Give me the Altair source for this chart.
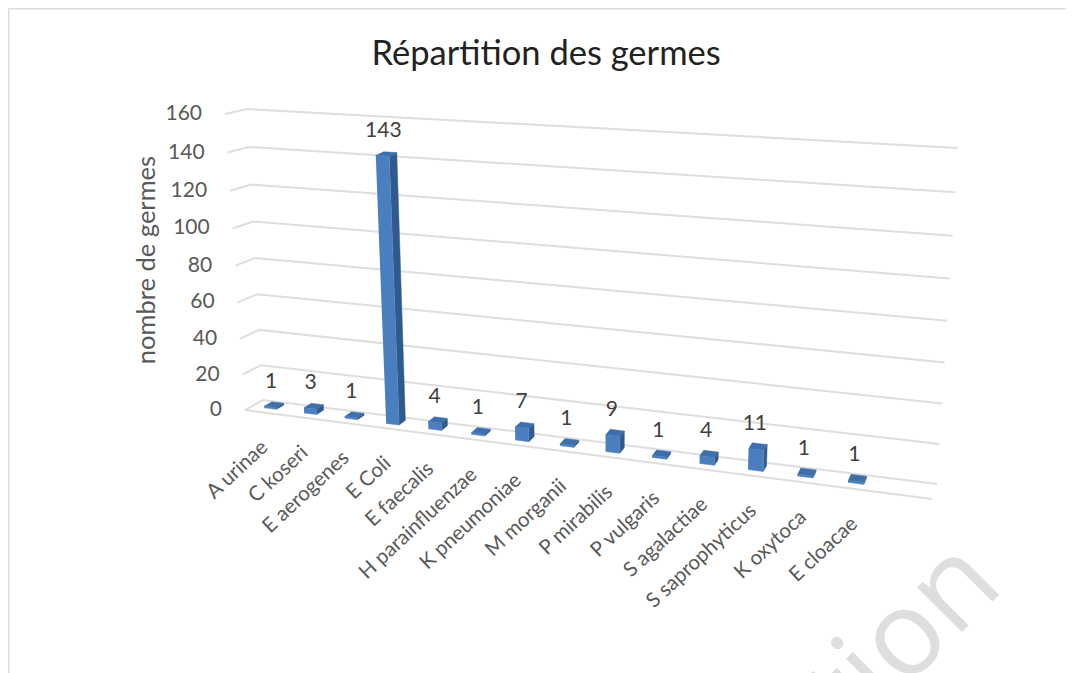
import altair as alt
import numpy as np
import pandas as pd

# ---- chart data
categories = ["A urinae", "C koseri", "E aerogenes", "E Coli", "E faecalis", "H parainfluenzae",
              "K pneumoniae", "M morganii", "P mirabilis", "P vulgaris", "S agalactiae",
              "S saprophyticus", "K oxytoca", "E cloacae"]
values = [1, 3, 1, 143, 4, 1, 7, 1, 9, 1, 4, 11, 1, 1]
y_ticks = [0, 20, 40, 60, 80, 100, 120, 140, 160]
title_text = "Répartition des germes"
y_title = "nombre de germes"
slots = 15  # one empty slot after the last category
v_max = 160

# ---- perspective of the 3-D box (picture pixels)
W, H = 1058, 665
BL, BR, TR, TL = (263, 400), (937, 484), (958, 148), (247, 109)
(x0, y0), (x1, y1), (x2, y2), (x3, y3) = BL, BR, TR, TL
sx = x0 - x1 + x2 - x3
sy = y0 - y1 + y2 - y3
ax1, ax2 = x1 - x2, x3 - x2
ay1, ay2 = y1 - y2, y3 - y2
den = ax1 * ay2 - ax2 * ay1
g = (sx * ay2 - ax2 * sy) / den
h = (ax1 * sy - sx * ay1) / den


def project(t, v, d=0.0):
    """t: along category axis 0..1, v: value, d: depth 0 (back) .. 1 (front)."""
    u = v / v_max
    w = g * t + h * u + 1
    px = ((x1 - x0 + g * x1) * t + (x3 - x0 + h * x3) * u + x0) / w
    py = ((y1 - y0 + g * y1) * t + (y3 - y0 + h * y3) * u + y0) / w
    ox = (1 - t) * (-18 - 4 * u) + t * (-5 - 1 * u)
    oy = (1 - t) * (10 - 5 * u) + t * (15 + 5 * u)
    return px + ox * d, py + oy * d


half = 0.155 / slots
d_back, d_front = 0.2, 0.62

faces = {"front": [], "side": [], "top": []}
labels = []
cat_rows = []
for i, (c, v) in enumerate(zip(categories, values)):
    tc = (i + 0.5) / slots
    tc -= 0.002 * (1 - tc)
    a, b = tc - half, tc + half
    polys = {
        "front": [(a, 0, d_front), (b, 0, d_front), (b, v, d_front), (a, v, d_front)],
        "side": [(b, 0, d_front), (b, 0, d_back), (b, v, d_back), (b, v, d_front)],
        "top": [(a, v, d_front), (b, v, d_front), (b, v, d_back), (a, v, d_back)],
    }
    for name, pts in polys.items():
        for k, p in enumerate(pts):
            px, py = project(*p)
            faces[name].append({"bar": c, "k": k, "x": px, "y": py})
    lx, ly = project(tc, v, (d_front + d_back) / 2)
    labels.append({"x": lx - 3, "y": ly - 23, "text": str(v)})
    fx, fy = project(tc, 0, 1)
    cat_rows.append({"x": fx + 1, "y": fy + 32, "text": c})

grid_rows = []
tick_rows = []
for v in y_ticks:
    for k, p in enumerate([(0, v, 1), (0, v, 0), (1, v, 0)]):
        px, py = project(*p)
        grid_rows.append({"g": f"v{v}", "k": k, "x": px, "y": py})
    px, py = project(0, v, 1)
    tick_rows.append({"x": px - 23, "y": py, "text": str(v)})
for k, p in enumerate([(0, 0, 1), (1, 0, 1)]):
    px, py = project(*p)
    grid_rows.append({"g": "front", "k": k, "x": px, "y": py})

X = alt.X("x:Q", scale=alt.Scale(domain=[8, 8 + W], range=[0, W]), axis=None)
Y = alt.Y("y:Q", scale=alt.Scale(domain=[8 + H, 8], range=[H, 0]), axis=None)

GREY = "#595959"
FONT = "Lato"

grid = alt.Chart(pd.DataFrame(grid_rows)).mark_line(color="#DEDEDE", strokeWidth=2).encode(
    x=X, y=Y, detail="g:N", order="k:Q")


def face(name, colour):
    return alt.Chart(pd.DataFrame(faces[name])).mark_line(
        fill=colour, stroke=colour, strokeWidth=0.5).encode(x=X, y=Y, detail="bar:N", order="k:Q")


def text_layer(rows, **kw):
    return alt.Chart(pd.DataFrame(rows)).mark_text(font=FONT, **kw).encode(x=X, y=Y, text="text:N")


frame = alt.Chart(pd.DataFrame([
    {"x": 8.5, "x2": 1074, "y": 8.5, "y2": 8.5},
    {"x": 8.5, "x2": 8.5, "y": 8.5, "y2": 673},
])).mark_rule(color="#DDDDDD", strokeWidth=2).encode(x=X, x2="x2:Q", y=Y, y2="y2:Q")

watermark = alt.Chart(pd.DataFrame([{"x": 1006, "y": 588, "text": "tion"}])).mark_text(
    font="Open Sans", fontSize=118, color="#DEDEDE", angle=315, align="right", baseline="alphabetic"
).encode(x=X, y=Y, text="text:N")

axis_title = alt.Chart(pd.DataFrame([{"x": 146.5, "y": 260, "text": y_title}])).mark_text(
    font=FONT, fontSize=25.5, color=GREY, angle=270, align="center", baseline="middle"
).encode(x=X, y=Y, text="text:N")

chart = alt.layer(
    watermark, frame, grid,
    face("side", "#2E5A8E"), face("top", "#3F6FA8"), face("front", "#4A7FBF"),
    text_layer(tick_rows, fontSize=21, color=GREY, align="right", baseline="middle"),
    axis_title,
    text_layer(labels, fontSize=21, color="#404040", align="center", baseline="middle"),
    text_layer(cat_rows, fontSize=20.5, color=GREY, align="right", baseline="middle", angle=317),
).properties(
    width=W, height=H, padding=0, autosize=alt.AutoSizeParams(type="none"),
    title=alt.TitleParams(text=title_text, font=FONT, fontSize=34.5, fontWeight="normal", color="#222222",
                          anchor="start", dx=364, dy=65, offset=0),
).configure_view(stroke=None)

chart.save("out.html", embed_options={"renderer": "svg", "actions": False})
